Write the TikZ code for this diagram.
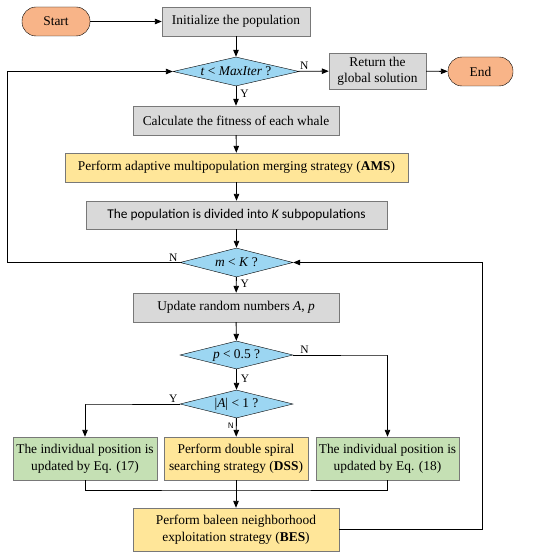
\documentclass[tikz,border=0pt]{standalone}
\usepackage{fontspec}
\setmainfont{Liberation Serif}
\newfontfamily\calibri{Carlito}
\usetikzlibrary{arrows.meta}
\usetikzlibrary{positioning}
\usetikzlibrary{shapes.geometric}
\usetikzlibrary{calc}

\definecolor{termfill}{RGB}{248,180,136}
\definecolor{procfill}{RGB}{217,217,217}
\definecolor{stratfill}{RGB}{255,230,153}
\definecolor{decfill}{RGB}{156,214,242}
\definecolor{posfill}{RGB}{197,224,180}
\definecolor{procline}{RGB}{120,120,120}

\tikzset{
    term/.style={draw=black, fill=termfill, rounded corners=14pt, minimum height=29pt, inner sep=1pt, font=\fontsize{13.4}{15}\selectfont},
    proc/.style={draw=procline, fill=procfill, minimum height=29pt, inner sep=1pt, font=\fontsize{13.4}{15}\selectfont},
    strat/.style={draw=procline, fill=stratfill, minimum height=29pt, inner sep=1pt, align=center, font=\fontsize{13.4}{17}\selectfont},
    posbox/.style={draw=procline, fill=posfill, minimum height=43pt, inner sep=1pt, align=center, font=\fontsize{13.4}{17}\selectfont},
    dec/.style={draw=black, fill=decfill, diamond, inner sep=0pt, shape aspect=4, font=\fontsize{13.4}{15}\selectfont},
    lab/.style={font=\fontsize{11.5}{13}\selectfont, inner sep=1pt},
    arr/.style={-{Triangle[length=7pt,width=5.5pt]}, line width=0.9pt},
    ln/.style={line width=0.9pt}
}

\begin{document}
\begin{tikzpicture}[x=1pt,y=-1pt]
        \useasboundingbox (0,0) rectangle (550,559);
        % nodes
        \node[term, minimum width=68pt] (n_start) at (56,21.5) {Start};
        \node[proc, minimum width=148pt] (n_init) at (236,21.5) {Initialize the population};
        \node[dec, minimum width=126pt, minimum height=29pt] (d_iter) at (236,71.5) {\textit{t} < \textit{MaxIter} ?};
        \node[proc, minimum width=97pt, minimum height=36pt, align=center, font=\fontsize{13.4}{16}\selectfont] (n_ret) at (377.5,71) {Return the\\global solution};
        \node[term, minimum width=65pt] (n_end) at (480.5,71.5) {End};
        \node[proc, minimum width=206pt] (n_calc) at (236,120.5) {Calculate the fitness of each whale};
        \node[strat, minimum width=343pt] (n_ams) at (236.5,167.5) {Perform adaptive multipopulation merging strategy (\textbf{AMS})};
        \node[proc, minimum width=301pt, minimum height=28pt, font=\calibri\fontsize{13.4}{15}\selectfont] (n_div) at (236.5,215) {The population is divided into \textit{K} subpopulations};
        \node[dec, minimum width=113pt, minimum height=29pt] (d_m) at (236.5,262.5) {\textit{m} < \textit{K} ?};
        \node[proc, minimum width=206pt] (n_upd) at (236,307.5) {Update random numbers \textit{A}, \textit{p}};
        \node[dec, minimum width=113pt, minimum height=28pt] (d_p) at (236.5,355) {\textit{p} < 0.5 ?};
        \node[dec, minimum width=113pt, minimum height=28pt] (d_a) at (236.5,404) {|\textit{A}| < 1 ?};
        \node[posbox, minimum width=144pt] (n_eq17) at (85,458.5) {The individual position is\\updated by Eq. (17)};
        \node[strat, minimum width=144pt, minimum height=43pt] (n_dss) at (236,458.5) {Perform double spiral\\searching strategy (\textbf{DSS})};
        \node[posbox, minimum width=143pt] (n_eq18) at (387.5,458.5) {The individual position is\\updated by Eq. (18)};
        \node[strat, minimum width=206pt, minimum height=43pt] (n_bes) at (236,529.5) {Perform baleen neighborhood\\exploitation strategy (\textbf{BES})};
        \coordinate (c_left) at (7,262.5);
        \coordinate (c_right) at (482,262.5);
        \coordinate (c_merge) at (236,490);
        % connectors
        \draw[arr] (n_start) -- (n_init);
        \draw[arr] (n_init) -- (d_iter);
        \draw[arr] (d_iter) -- node[lab, pos=0.2, above] {N} (n_ret);
        \draw[arr] (d_iter) -- node[lab, pos=0.4, right=3pt] {Y} (n_calc);
        \draw[arr] (n_ret) -- (n_end);
        \draw[arr] (n_calc) -- (n_ams);
        \draw[arr] (n_ams) -- (n_div);
        \draw[arr] (n_div) -- (d_m);
        \draw[arr] (d_m.west) -- node[lab, pos=0.0, above left, xshift=-1pt] {N} (c_left) |- (d_iter.west);
        \draw[arr] (d_m) -- node[lab, pos=0.45, right=3pt] {Y} (n_upd);
        \draw[arr] (n_upd) -- (d_p);
        \draw[arr] (d_p.east) -- node[lab, pos=0.12, above] {N} ++(94.5,0) -| (n_eq18.north);
        \draw[arr] (d_p) -- node[lab, pos=0.45, right=3pt] {Y} (d_a);
        \draw[arr] (d_a.west) -- node[lab, pos=0.0, above left, xshift=-1pt] {Y} ++(-94,0) -| (n_eq17.north);
        \draw[arr] (d_a) -- node[lab, pos=0.4, left=1pt, font=\sffamily\fontsize{8}{10}\selectfont] {N} (n_dss);
        \draw[ln] (n_eq17.south) |- (c_merge) -| (n_eq18.south);
        \draw[arr] (n_dss) -- (n_bes);
        \draw[arr] (n_bes.east) -| (c_right) -- (d_m.east);
\end{tikzpicture}
\end{document}
